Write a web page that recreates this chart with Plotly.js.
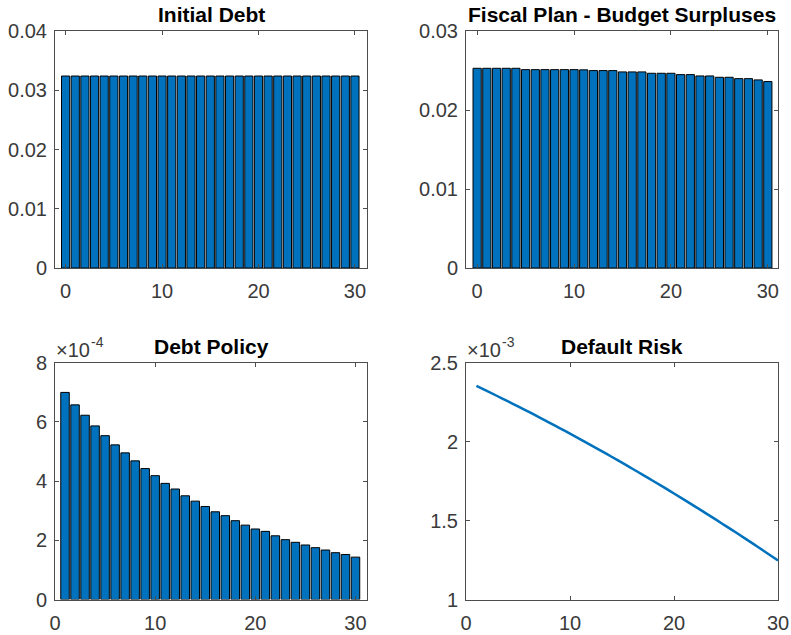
<!DOCTYPE html>
<html>
<head>
<meta charset="utf-8">
<script src="https://cdn.plot.ly/plotly-3.0.1.min.js"></script>
<style>html,body{margin:0;padding:0;background:#fff;}#chart{width:791px;height:635px;}</style>
</head>
<body>
<div id="chart"></div>
<script>
// ---- data ----
const periods0 = [0,1,2,3,4,5,6,7,8,9,10,11,12,13,14,15,16,17,18,19,20,21,22,23,24,25,26,27,28,29,30];
const periods1 = [1,2,3,4,5,6,7,8,9,10,11,12,13,14,15,16,17,18,19,20,21,22,23,24,25,26,27,28,29,30];
const initialDebt = [0.0324,0.0324,0.0324,0.0324,0.0324,0.0324,0.0324,0.0324,0.0324,0.0324,0.0324,0.0324,0.0324,0.0324,0.0324,0.0324,0.0324,0.0324,0.0324,0.0324,0.0324,0.0324,0.0324,0.0324,0.0324,0.0324,0.0324,0.0324,0.0324,0.0324,0.0324];
const budgetSurpluses = [0.02528,0.02528,0.02528,0.02528,0.02528,0.02511,0.02511,0.02511,0.02511,0.02511,0.02511,0.02508,0.02499,0.02499,0.02499,0.02482,0.02482,0.02482,0.02465,0.02465,0.02465,0.02448,0.02448,0.02431,0.02431,0.02414,0.02414,0.02397,0.02397,0.02381,0.02360];
const debtPolicy = [6.99e-4,6.57e-4,6.22e-4,5.86e-4,5.53e-4,5.22e-4,4.95e-4,4.68e-4,4.42e-4,4.18e-4,3.92e-4,3.73e-4,3.50e-4,3.32e-4,3.14e-4,2.96e-4,2.83e-4,2.66e-4,2.51e-4,2.38e-4,2.30e-4,2.15e-4,2.02e-4,1.93e-4,1.84e-4,1.75e-4,1.67e-4,1.58e-4,1.52e-4,1.43e-4];
const defaultRisk = [2.3520e-3,2.3202e-3,2.2880e-3,2.2553e-3,2.2221e-3,2.1885e-3,2.1545e-3,2.1200e-3,2.0850e-3,2.0496e-3,2.0138e-3,1.9775e-3,1.9407e-3,1.9035e-3,1.8659e-3,1.8278e-3,1.7892e-3,1.7502e-3,1.7108e-3,1.6709e-3,1.6305e-3,1.5897e-3,1.5485e-3,1.5068e-3,1.4646e-3,1.4220e-3,1.3790e-3,1.3355e-3,1.2915e-3,1.2471e-3];
const titles = ["Initial Debt","Fiscal Plan - Budget Surpluses","Debt Policy","Default Risk"];
const xTicks = [0,10,20,30];
const xTickText = ["0","10","20","30"];
const ticksTL = [0,0.01,0.02,0.03,0.04];
const ticksTLText = ["0","0.01","0.02","0.03","0.04"];
const ticksTR = [0,0.01,0.02,0.03];
const ticksTRText = ["0","0.01","0.02","0.03"];
const ticksBL = [0,2e-4,4e-4,6e-4,8e-4];
const ticksBLText = ["0","2","4","6","8"];
const ticksBR = [1e-3,1.5e-3,2e-3,2.5e-3];
const ticksBRText = ["1","1.5","2","2.5"];
const expBase = "×10";
const expPowers = ["-4","-3"];

// ---- styles ----
const blue = '#0072BD';
const axCol = '#4d4d4d';
const txtCol = '#3a3a3a';
const FONT = 'Liberation Sans, Arial, Helvetica, sans-serif';
const W = 791, H = 635;

function ax(dom, range, tv, tt, anchor, isX){
  return {domain: dom, range: range, tickvals: tv, ticktext: tt, anchor: anchor,
    showline: true, mirror: 'ticks', linecolor: axCol, linewidth: 1,
    ticks: 'inside', ticklen: 4, tickcolor: axCol, tickwidth: 1,
    ticklabelstandoff: isX ? 5 : 3,
    showgrid: false, zeroline: false, fixedrange: true,
    tickfont: {family: FONT, size: 20, color: txtCol}};
}
const xL = [55/W, 367/W], xR = [466/W, 778/W];
const yT = [(H-268)/H, (H-31)/H], yB = [(H-599.5)/H, (H-362.5)/H];

const barStyle = {color: blue, line: {color: '#000', width: 1}};
const data = [
  {type:'bar', x: periods0, y: initialDebt, xaxis:'x', yaxis:'y', marker: barStyle, width: 0.85, hoverinfo:'skip'},
  {type:'bar', x: periods0, y: budgetSurpluses, xaxis:'x2', yaxis:'y2', marker: barStyle, width: 0.85, hoverinfo:'skip'},
  {type:'bar', x: periods1, y: debtPolicy, xaxis:'x3', yaxis:'y3', marker: barStyle, width: 0.85, hoverinfo:'skip'},
  {type:'scatter', mode:'lines', x: periods1, y: defaultRisk, xaxis:'x4', yaxis:'y4', line:{color: blue, width: 2.5, shape:'spline', smoothing: 1}, hoverinfo:'skip'}
];

function titleAnn(text, xc, yc){
  return {text: '<b>'+text+'</b>', xref:'paper', yref:'paper', x: xc/W, y: 1-yc/H,
    xanchor:'center', yanchor:'middle', showarrow:false,
    font:{family: FONT, size: 21, color:'#000'}};
}
function txtAnn(text, xl, yc, size){
  return {text: text, xref:'paper', yref:'paper', x: xl/W, y: 1-yc/H,
    xanchor:'left', yanchor:'middle', showarrow:false,
    font:{family: FONT, size: size, color: txtCol}};
}

const layout = {
  width: W, height: H, margin: {l:0, r:0, t:0, b:0},
  paper_bgcolor:'#fff', plot_bgcolor:'#fff', showlegend:false, bargap: 0,
  xaxis: ax(xL, [-1.1, 31.25], xTicks, xTickText, 'y', true),
  yaxis: ax(yT, [0, 0.04], ticksTL, ticksTLText, 'x', false),
  xaxis2: ax(xR, [-1.15, 31.05], xTicks, xTickText, 'y2', true),
  yaxis2: ax(yT, [0, 0.03], ticksTR, ticksTRText, 'x2', false),
  xaxis3: ax(xL, [0, 31.15], xTicks, xTickText, 'y3', true),
  yaxis3: ax(yB, [0, 8e-4], ticksBL, ticksBLText, 'x3', false),
  xaxis4: ax(xR, [0, 30], xTicks, xTickText, 'y4', true),
  yaxis4: ax(yB, [1e-3, 2.5e-3], ticksBR, ticksBRText, 'x4', false),
  annotations: [
    titleAnn(titles[0], 211, 14.5),
    titleAnn(titles[1], 622, 14.5),
    titleAnn(titles[2], 211, 346),
    titleAnn(titles[3], 622, 346),
    txtAnn(expBase, 54, 350, 20),
    txtAnn(expPowers[0], 89, 342, 14),
    txtAnn(expBase, 465, 350, 20),
    txtAnn(expPowers[1], 500, 342, 14)
  ]
};

Plotly.newPlot('chart', data, layout, {staticPlot: true, displayModeBar: false});
</script>
</body>
</html>
